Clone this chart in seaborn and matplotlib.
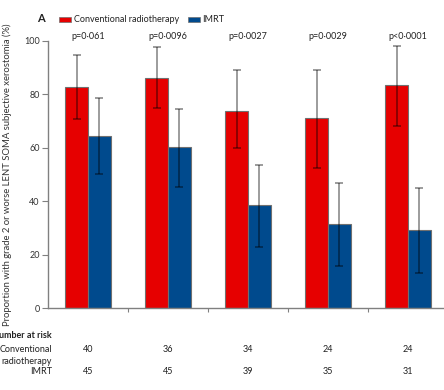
import matplotlib
matplotlib.use("Agg")
import matplotlib.pyplot as plt
from matplotlib.patches import Rectangle
import seaborn as sns
import pandas as pd
import numpy as np

# Follow-up timepoints and group labels
timepoints = ["12 months", "18 months", "24 months", "36 months", "48 months"]
groups = ["Conventional radiotherapy", "IMRT"]

# Proportion (%) with grade 2+ LENT SOMA xerostomia, with 95% CI bounds
conv_pct = [82.7, 86.3, 73.7, 71.0, 83.5]
conv_lo = [70.7, 74.8, 59.8, 52.5, 68.2]
conv_hi = [94.6, 97.6, 89.0, 89.1, 98.2]
imrt_pct = [64.5, 60.2, 38.5, 31.5, 29.1]
imrt_lo = [50.2, 45.4, 23.0, 15.6, 13.0]
imrt_hi = [78.5, 74.4, 53.6, 46.7, 44.8]

p_values = ["p=0·061", "p=0·0096", "p=0·0027", "p=0·0029", "p<0·0001"]
n_conv = [40, 36, 34, 24, 24]
n_imrt = [45, 45, 39, 35, 31]

sns.set_theme(style="white")
plt.rcParams["font.family"] = ["Lato", "DejaVu Sans"]

df = pd.DataFrame({
    "time": timepoints * 2,
    "group": [groups[0]] * 5 + [groups[1]] * 5,
    "pct": conv_pct + imrt_pct,
})

red = "#e60000"
blue = "#004a8d"

fig = plt.figure(figsize=(4.44, 3.90), dpi=100)
ax = fig.add_axes([48 / 444, 1 - 308 / 390, 400 / 444, 267 / 390])

sns.barplot(data=df, x="time", y="pct", hue="group", order=timepoints,
            hue_order=groups, palette=[red, blue], saturation=1,
            width=0.567, gap=0, errorbar=None, edgecolor="#707070",
            linewidth=0.8, legend=False, ax=ax)

# Asymmetric confidence intervals drawn at each bar centre
lows = [conv_lo, imrt_lo]
highs = [conv_hi, imrt_hi]
vals = [conv_pct, imrt_pct]
bar_containers = list(ax.containers)
for k, cont in enumerate(bar_containers):
    xs = [b.get_x() + b.get_width() / 2 for b in cont]
    v = np.array(vals[k])
    err = [v - np.array(lows[k]), np.array(highs[k]) - v]
    ax.errorbar(xs, v, yerr=err, fmt="none", ecolor=(0, 0, 0, 0.42),
                elinewidth=1.3, capsize=3, capthick=1.3, zorder=5)

ax.set_xlim(-0.5, 4.5)
ax.set_ylim(0, 100)
ax.set_yticks([0, 20, 40, 60, 80, 100])
ax.set_xticks([0.5, 1.5, 2.5, 3.5])
ax.set_xticklabels([])
ax.tick_params(axis="y", length=4, width=0.8, color="#808080",
               labelsize=6.5, labelcolor="#333333", pad=2, left=True)
ax.tick_params(axis="x", length=3, width=0.8, color="#808080", bottom=True)
for side in ["top", "right"]:
    ax.spines[side].set_visible(False)
for side in ["left", "bottom"]:
    ax.spines[side].set_color("#808080")
    ax.spines[side].set_linewidth(1.0)
ax.set_xlabel("")
ax.set_ylabel("Proportion with grade 2 or worse LENT SOMA subjective xerostomia (%)",
              fontsize=6.8, color="#333333")
ax.yaxis.set_label_coords(-36 / 400, 0.5)

# p values above each timepoint
for i, p in enumerate(p_values):
    ax.text(i, 100, p, ha="center", va="bottom", fontsize=6.5,
            color="#222222")

# Panel letter and legend
fig.text(37 / 444, 1 - 19 / 390, "A", fontsize=8, fontweight="bold",
         ha="left", va="center", color="#222222")
fig.patches.append(Rectangle((59 / 444, 1 - 22 / 390), 12 / 444, 5 / 390,
                             transform=fig.transFigure, facecolor=red,
                             edgecolor="#707070", linewidth=0.5))
fig.text(74 / 444, 1 - 19 / 390, groups[0], fontsize=6.5, ha="left",
         va="center", color="#222222")
fig.patches.append(Rectangle((188 / 444, 1 - 22 / 390), 12 / 444, 5 / 390,
                             transform=fig.transFigure, facecolor=blue,
                             edgecolor="#707070", linewidth=0.5))
fig.text(202 / 444, 1 - 19 / 390, groups[1], fontsize=6.5, ha="left",
         va="center", color="#222222")

# Number at risk table
tbl_x = 52 / 444
fig.text(tbl_x, 1 - 336 / 390, "Number at risk", fontsize=6.5,
         fontweight="bold", ha="right", va="center", color="#222222")
fig.text(tbl_x, 1 - 349 / 390, "Conventional", fontsize=6.5, ha="right",
         va="center", color="#222222")
fig.text(tbl_x, 1 - 361 / 390, "radiotherapy", fontsize=6.5, ha="right",
         va="center", color="#222222")
fig.text(tbl_x, 1 - 372 / 390, "IMRT", fontsize=6.5, ha="right",
         va="center", color="#222222")
for i in range(len(timepoints)):
    xf = fig.transFigure.inverted().transform(ax.transData.transform((i, 0)))[0]
    fig.text(xf, 1 - 349 / 390, str(n_conv[i]), fontsize=6.5, ha="center",
             va="center", color="#222222")
    fig.text(xf, 1 - 372 / 390, str(n_imrt[i]), fontsize=6.5, ha="center",
             va="center", color="#222222")

fig.savefig("out.png", dpi=100)
